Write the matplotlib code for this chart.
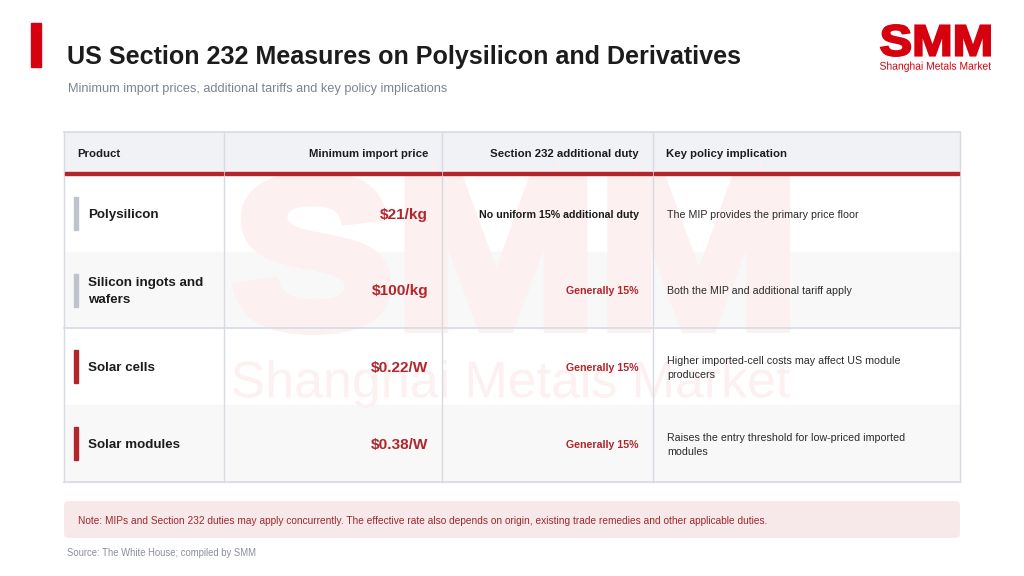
import matplotlib
matplotlib.use('Agg')
import matplotlib.pyplot as plt
from matplotlib.patches import Rectangle, FancyBboxPatch, PathPatch
from matplotlib.textpath import TextPath
from matplotlib.font_manager import FontProperties
from matplotlib.transforms import Affine2D

plt.rcParams['font.family'] = ['Liberation Sans', 'DejaVu Sans']

# tablo verileri
title = 'US Section 232 Measures on Polysilicon and Derivatives'
subtitle = 'Minimum import prices, additional tariffs and key policy implications'
headers = ['Product', 'Minimum import price', 'Section 232 additional duty', 'Key policy implication']
products = ['Polysilicon', 'Silicon ingots and\nwafers', 'Solar cells', 'Solar modules']
prices = ['$21/kg', '$100/kg', '$0.22/W', '$0.38/W']
duties = ['No uniform 15% additional duty', 'Generally 15%', 'Generally 15%', 'Generally 15%']
duty_red = [False, True, True, True]
implications = ['The MIP provides the primary price floor',
                'Both the MIP and additional tariff apply',
                'Higher imported-cell costs may affect US module\nproducers',
                'Raises the entry threshold for low-priced imported\nmodules']
groups = ['silicon', 'silicon', 'solar', 'solar']
note = ('Note: MIPs and Section 232 duties may apply concurrently. The effective rate also depends on origin, '
        'existing trade remedies and other applicable duties.')
source = 'Source: The White House; compiled by SMM'

# renkler
RED = '#d7000f'
DARK_RED = '#b2262b'
BORDER = '#d6dbe3'
HEADER_BG = '#f1f2f5'
ALT_BG = '#f8f8f9'
WATERMARK = '#fcf0f0'

fig = plt.figure(figsize=(10.24, 5.76), dpi=100)
ax = fig.add_axes([0, 0, 1, 1])
ax.set_xlim(0, 1024)
ax.set_ylim(576, 0)
ax.axis('off')


def fit_text(s, x0, x1, ytop, ybot, color, weight='bold', z=1, lw=0.0):
    # metni verilen kutuya sigdir (kontur kalinligi kadar iceri cek)
    pad = lw * 100 / 72 / 2
    x0, x1, ytop, ybot = x0 + pad, x1 - pad, ytop + pad, ybot - pad
    fp = FontProperties(family='Liberation Sans', weight=weight)
    tp = TextPath((0, 0), s, size=100, prop=fp)
    ext = tp.get_extents()
    sx = (x1 - x0) / ext.width
    sy = (ybot - ytop) / ext.height
    tr = Affine2D().translate(-ext.x0, -ext.y0).scale(sx, -sy).translate(x0, ybot)
    path = tr.transform_path(tp)
    ax.add_patch(PathPatch(path, facecolor=color, edgecolor=color if lw > 0 else 'none',
                           lw=lw, joinstyle='miter', zorder=z))


# baslik kismi
ax.add_patch(Rectangle((31, 23), 10, 44, color=RED, zorder=2))
ax.text(67, 57, title, fontsize=18.1, fontweight='bold', color='#1c1c1c', va='center', ha='left')
ax.text(68, 89, subtitle, fontsize=9.2, color='#7b8494', va='center', ha='left')

# logo
fit_text('SMM', 880, 991, 24, 57, RED, lw=1.5)
fit_text('Shanghai Metals Market', 880, 991, 61.5, 72, RED, weight='normal')

# tablo
cols = [64, 224, 442, 653, 960]
top, head_bot = 132, 172
row_edges = [175, 252, 328, 405, 482]

ax.add_patch(Rectangle((cols[0], top), cols[-1] - cols[0], head_bot - top, color=HEADER_BG, zorder=0))
for i in range(4):
    if i % 2 == 1:
        ax.add_patch(Rectangle((cols[0], row_edges[i]), cols[-1] - cols[0],
                               row_edges[i + 1] - row_edges[i], color=ALT_BG, zorder=0))

# filigran
fit_text('SMM', 233, 790, 172, 335, WATERMARK, z=0.5, lw=9)
fit_text('Shanghai Metals Market', 233, 790, 360, 408, WATERMARK, weight='normal', z=0.5)

# cizgiler
for x in cols:
    ax.plot([x, x], [top, row_edges[-1]], color=BORDER, lw=1.0, zorder=1)
ax.plot([cols[0], cols[-1]], [top, top], color=BORDER, lw=1.2, zorder=1)
ax.plot([cols[0], cols[-1]], [row_edges[-1], row_edges[-1]], color=BORDER, lw=1.2, zorder=1)
ax.plot([cols[0], cols[-1]], [328, 328], color=BORDER, lw=1.2, zorder=1)
for i in range(4):
    ax.add_patch(Rectangle((cols[i] + 1, 172), cols[i + 1] - cols[i] - 2, 3.2, color=DARK_RED, zorder=2))

# basliklar
hy = 154
ax.text(77, hy, headers[0], fontsize=8.2, fontweight='bold', color='#1c1c1c', va='center', ha='left')
ax.text(428, hy, headers[1], fontsize=8.2, fontweight='bold', color='#1c1c1c', va='center', ha='right')
ax.text(639, hy, headers[2], fontsize=8.2, fontweight='bold', color='#1c1c1c', va='center', ha='right')
ax.text(666, hy, headers[3], fontsize=8.2, fontweight='bold', color='#1c1c1c', va='center', ha='left')

# satirlar
for i in range(4):
    yc = (row_edges[i] + row_edges[i + 1]) / 2 + 1.5
    bar_c = '#bfc4cc' if groups[i] == 'silicon' else DARK_RED
    ax.add_patch(Rectangle((74, yc - 18), 4, 33, color=bar_c, zorder=2))
    ax.text(88, yc, products[i], fontsize=9.6, fontweight='bold', color='#1c1c1c',
            va='center', ha='left', linespacing=1.45)
    ax.text(428, yc, prices[i], fontsize=11.1, fontweight='bold', color=DARK_RED, va='center', ha='right')
    ax.text(639, yc, duties[i], fontsize=7.7, fontweight='bold',
            color=DARK_RED if duty_red[i] else '#1c1c1c', va='center', ha='right')
    ax.text(667, yc, implications[i], fontsize=7.7, color='#2b2b2b', va='center', ha='left',
            linespacing=1.45)

# not kutusu
ax.add_patch(FancyBboxPatch((64, 501), 896, 37, boxstyle='round,pad=0,rounding_size=5',
                            facecolor='#f7e9ea', edgecolor='none', zorder=1))
ax.text(78, 521, note, fontsize=7.3, color='#9b2a2e', va='center', ha='left')
ax.text(67, 553, source, fontsize=6.85, color='#8a8f99', va='center', ha='left')

fig.savefig('out.png', dpi=100)
